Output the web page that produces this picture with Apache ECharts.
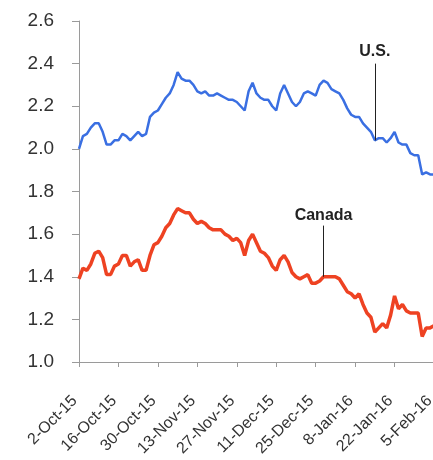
<!DOCTYPE html>
<html lang="en">
<head>
    <meta charset="UTF-8">
    <title>US vs Canada</title>
    <style>
        html, body { margin: 0; padding: 0; background: #fff; }
    </style>
</head>
<body>
<div id="main" style="width:433px;height:460px;"></div>
<script src="https://cdn.jsdelivr.net/npm/echarts@6/dist/echarts.min.js"></script>
<script>
    // business days from 2-Oct-15 to 5-Feb-16
    var startDate = [2015, 9, 2];
    var dayCount = 91;
    var monthNames = ['Jan','Feb','Mar','Apr','May','Jun','Jul','Aug','Sep','Oct','Nov','Dec'];

    var usValues = [
        2.00, 2.06, 2.07, 2.10, 2.12, 2.12, 2.08, 2.02, 2.02, 2.04,
        2.04, 2.07, 2.06, 2.04, 2.06, 2.08, 2.06, 2.07, 2.15, 2.17,
        2.18, 2.21, 2.24, 2.26, 2.30, 2.36, 2.33, 2.32, 2.32, 2.30,
        2.27, 2.26, 2.27, 2.25, 2.25, 2.26, 2.25, 2.24, 2.23, 2.23,
        2.22, 2.20, 2.18, 2.27, 2.31, 2.26, 2.24, 2.23, 2.23, 2.20,
        2.18, 2.26, 2.30, 2.26, 2.22, 2.20, 2.22, 2.26, 2.27, 2.26,
        2.25, 2.30, 2.32, 2.31, 2.28, 2.27, 2.26, 2.23, 2.19, 2.16,
        2.15, 2.15, 2.12, 2.10, 2.08, 2.04, 2.05, 2.05, 2.03, 2.05,
        2.08, 2.03, 2.02, 2.02, 1.98, 1.97, 1.97, 1.88, 1.89, 1.88,
        1.88
    ];
    var canadaValues = [
        1.39, 1.44, 1.43, 1.46, 1.51, 1.52, 1.49, 1.41, 1.41, 1.45,
        1.46, 1.50, 1.50, 1.45, 1.47, 1.48, 1.43, 1.43, 1.50, 1.55,
        1.56, 1.59, 1.63, 1.65, 1.69, 1.72, 1.71, 1.70, 1.70, 1.67,
        1.65, 1.66, 1.65, 1.63, 1.62, 1.62, 1.62, 1.60, 1.59, 1.57,
        1.58, 1.56, 1.50, 1.57, 1.60, 1.56, 1.52, 1.51, 1.49, 1.45,
        1.43, 1.48, 1.50, 1.47, 1.42, 1.40, 1.39, 1.40, 1.41, 1.37,
        1.37, 1.38, 1.40, 1.40, 1.40, 1.40, 1.39, 1.36, 1.33, 1.32,
        1.30, 1.32, 1.27, 1.23, 1.21, 1.14, 1.16, 1.18, 1.16, 1.22,
        1.31, 1.25, 1.27, 1.24, 1.23, 1.23, 1.23, 1.12, 1.16, 1.16,
        1.17
    ];
    var yTicks = [1.0, 1.2, 1.4, 1.6, 1.8, 2.0, 2.2, 2.4, 2.6];

    var dates = [];
    var d = new Date(startDate[0], startDate[1], startDate[2]);
    while (dates.length < dayCount) {
        var wd = d.getDay();
        if (wd !== 0 && wd !== 6) {
            dates.push(d.getDate() + '-' + monthNames[d.getMonth()] + '-' + String(d.getFullYear()).slice(2));
        }
        d.setDate(d.getDate() + 1);
    }

    var font = 'Liberation Sans, Arial, sans-serif';
    var myChart = echarts.init(document.getElementById('main'));
    var option = {
        animation: false,
        backgroundColor: '#fff',
        grid: {
            left: 79,
            top: 21,
            width: 355,
            height: 341,
            outerBoundsMode: 'none'
        },
        xAxis: {
            type: 'category',
            data: dates,
            boundaryGap: false,
            axisLine: { lineStyle: { color: '#9a9a9a', width: 1 } },
            axisTick: { interval: 9, length: 5, lineStyle: { color: '#9a9a9a' } },
            axisLabel: {
                interval: 9,
                rotate: 45,
                margin: 32,
                padding: [0, 6, 0, 0],
                color: '#333',
                fontSize: 16,
                fontFamily: font
            },
            splitLine: { show: false }
        },
        yAxis: {
            type: 'value',
            min: yTicks[0],
            max: yTicks[yTicks.length - 1],
            interval: 0.2,
            axisLine: { show: true, lineStyle: { color: '#9a9a9a', width: 1 } },
            axisTick: { show: true, length: 7, lineStyle: { color: '#9a9a9a' } },
            axisLabel: {
                margin: 25,
                color: '#333',
                fontSize: 19,
                fontFamily: font,
                formatter: function (v) { return v.toFixed(1); }
            },
            splitLine: { show: false }
        },
        series: [
            {
                name: 'U.S.',
                type: 'line',
                data: usValues,
                symbol: 'none',
                lineStyle: { color: '#3a6fe2', width: 2.5 },
                markLine: {
                    silent: true,
                    symbol: 'none',
                    lineStyle: { color: '#222', width: 1, type: 'solid' },
                    label: {
                        show: true,
                        position: 'end',
                        distance: 4,
                        formatter: 'U.S.',
                        color: '#222',
                        fontSize: 16,
                        fontWeight: 'bold',
                        fontFamily: font
                    },
                    data: [[{ coord: [75, 2.04] }, { coord: [75, 2.40] }]]
                }
            },
            {
                name: 'Canada',
                type: 'line',
                data: canadaValues,
                symbol: 'none',
                lineStyle: { color: '#ee4222', width: 3.5 },
                markLine: {
                    silent: true,
                    symbol: 'none',
                    lineStyle: { color: '#222', width: 1, type: 'solid' },
                    label: {
                        show: true,
                        position: 'end',
                        distance: 2,
                        formatter: 'Canada',
                        color: '#222',
                        fontSize: 16,
                        fontWeight: 'bold',
                        fontFamily: font
                    },
                    data: [[{ coord: [62, 1.40] }, { coord: [62, 1.64] }]]
                }
            }
        ]
    };
    myChart.setOption(option);
</script>
</body>
</html>
